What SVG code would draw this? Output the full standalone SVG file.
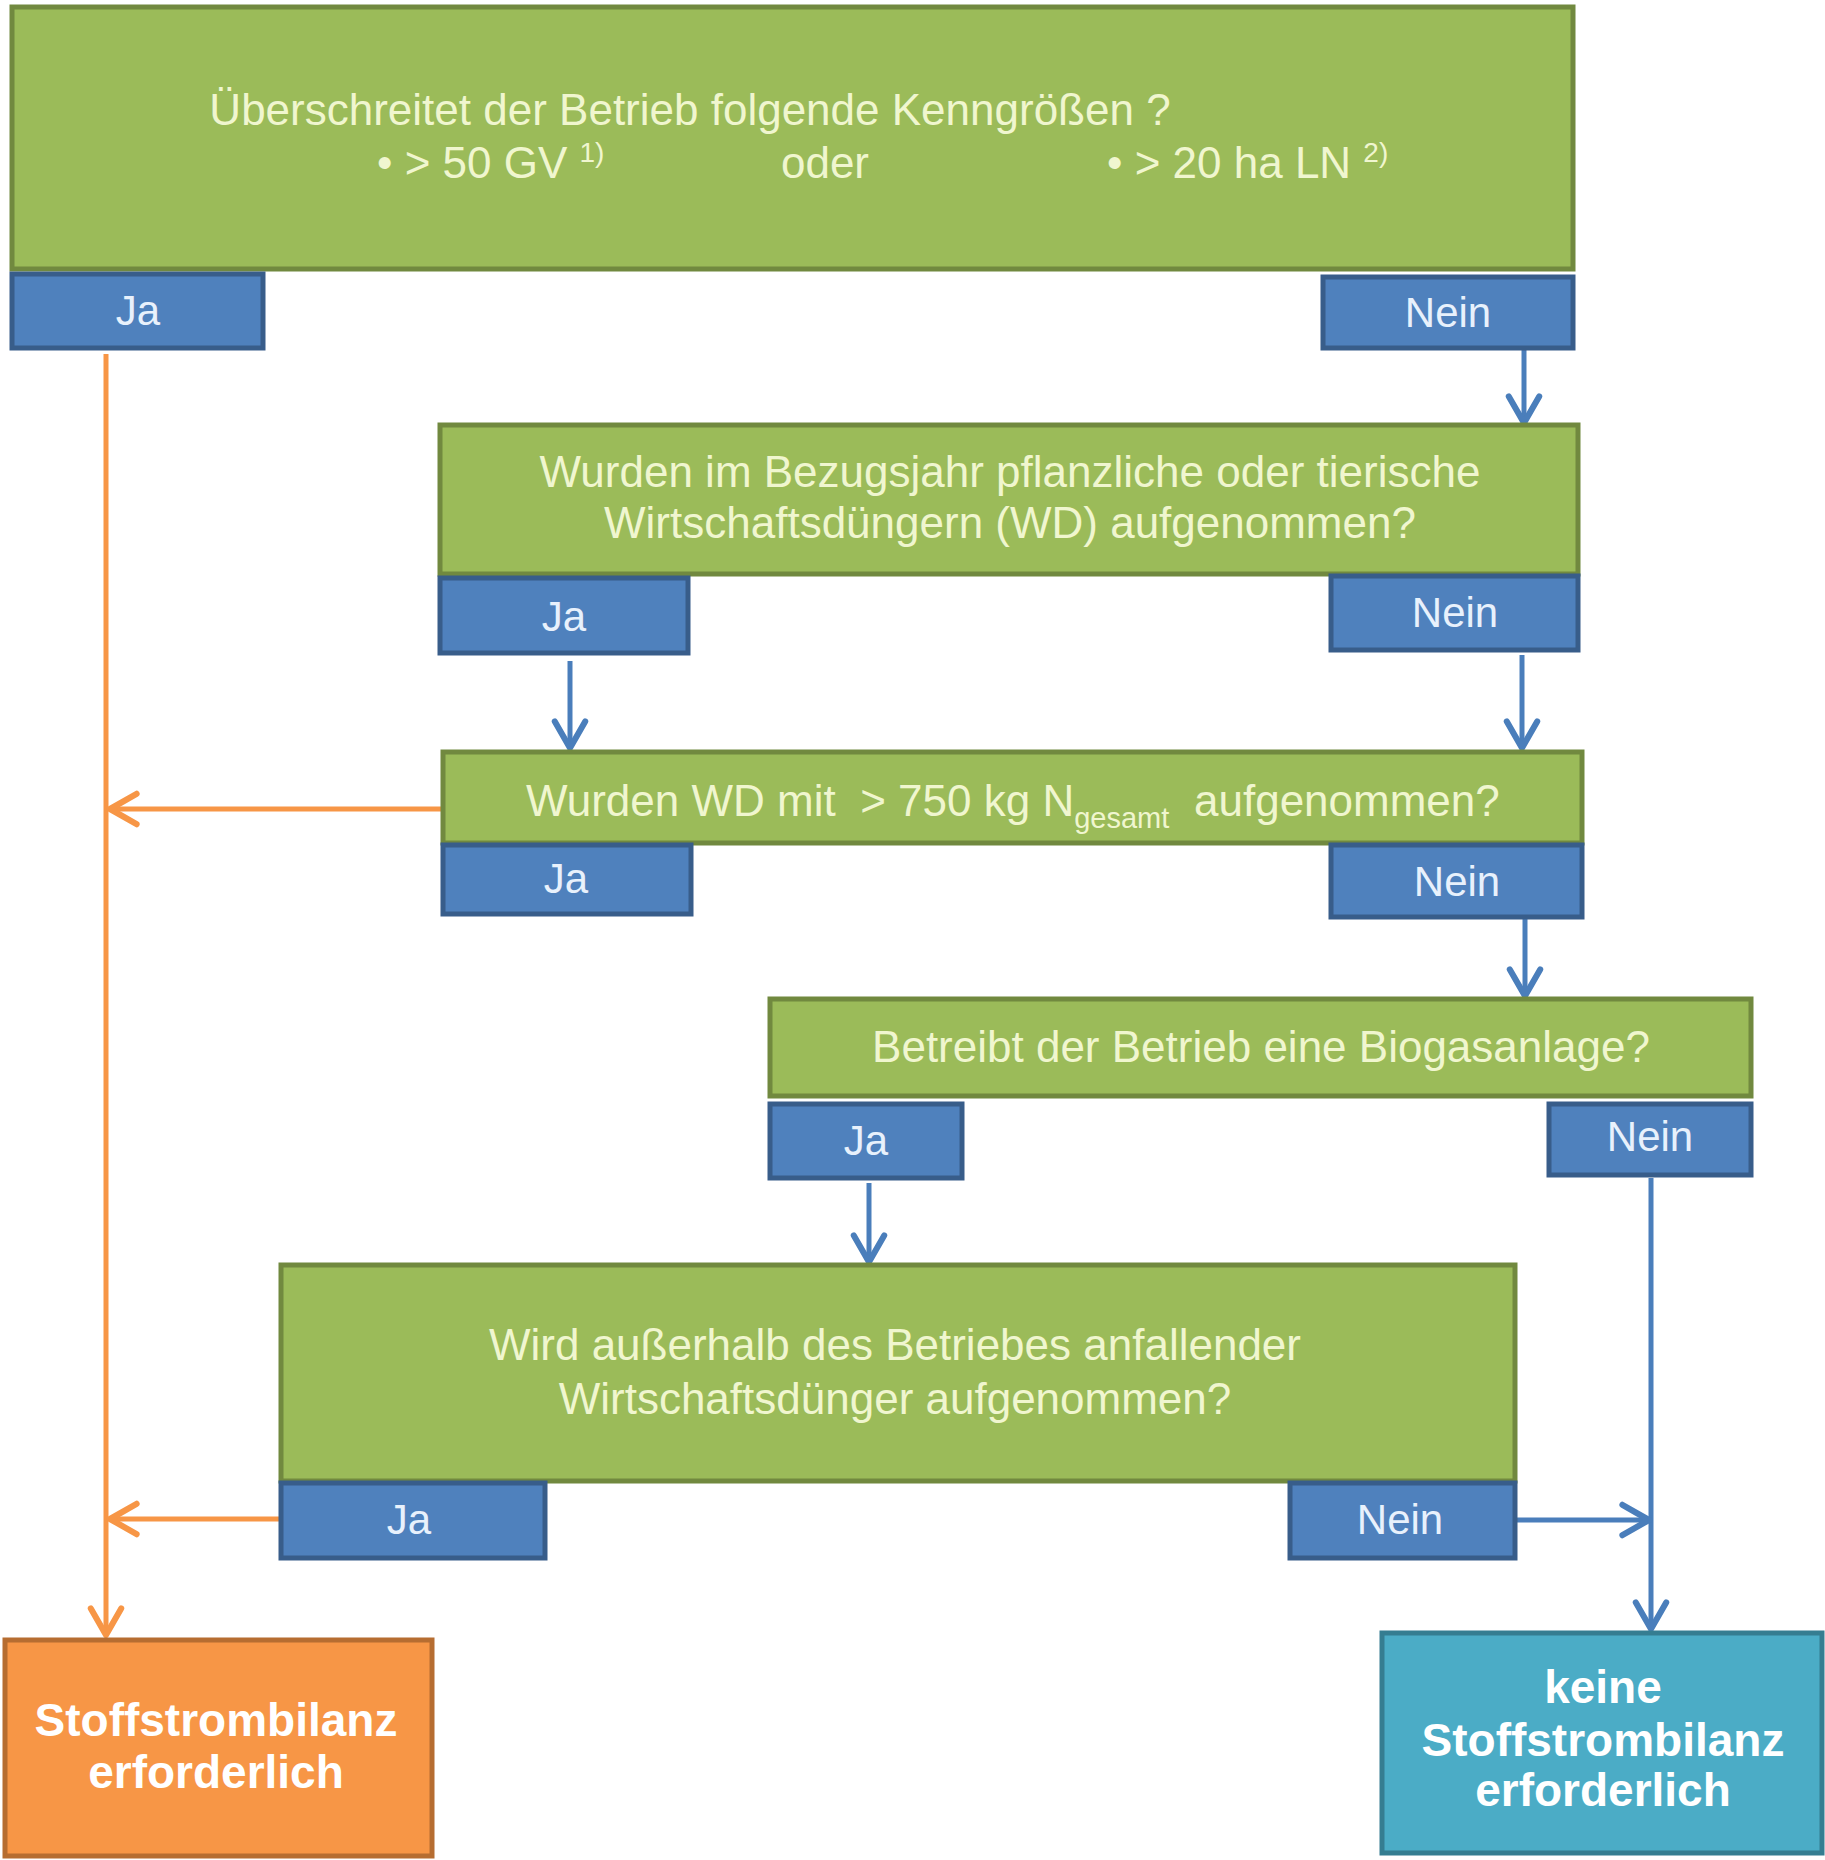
<svg xmlns="http://www.w3.org/2000/svg" width="1825" height="1860" viewBox="0 0 1825 1860">
<defs>
<style>
.q{fill:#9BBB59;stroke:#71893F;stroke-width:5}
.b{fill:#4F81BD;stroke:#385D8A;stroke-width:5}
.o{fill:#F79646;stroke:#B66D31;stroke-width:5}
.t{fill:#4BACC6;stroke:#357D91;stroke-width:5}
.qt{font-family:"Liberation Sans",Arial,sans-serif;font-size:44px;fill:#F0F6CF;text-anchor:middle}
.bt{font-family:"Liberation Sans",Arial,sans-serif;font-size:42px;fill:#E8F1FC;text-anchor:middle}
.rt{font-family:"Liberation Sans",Arial,sans-serif;font-size:46px;font-weight:bold;fill:#FFFFFF;text-anchor:middle}
.cb{fill:none;stroke:#4A7EBB;stroke-width:5}
.co{fill:none;stroke:#F79646;stroke-width:5}
</style>
<marker id="ab" viewBox="0 0 20 20" markerWidth="38" markerHeight="38" markerUnits="userSpaceOnUse" refX="18" refY="10" orient="auto">
<path d="M4,2 L18,10 L4,18" fill="none" stroke="#4A7EBB" stroke-width="3.2" stroke-linecap="round" stroke-linejoin="round"/>
</marker>
<marker id="ao" viewBox="0 0 20 20" markerWidth="38" markerHeight="38" markerUnits="userSpaceOnUse" refX="18" refY="10" orient="auto">
<path d="M4,2 L18,10 L4,18" fill="none" stroke="#F79646" stroke-width="3.2" stroke-linecap="round" stroke-linejoin="round"/>
</marker>
</defs>
<rect width="1825" height="1860" fill="#FFFFFF"/>

<g id="connectors">
<path class="co" d="M106,354 V1635" marker-end="url(#ao)"/>
<path class="co" d="M443,809 H110" marker-end="url(#ao)"/>
<path class="co" d="M281,1519 H110" marker-end="url(#ao)"/>
<path class="cb" d="M1524,348 V423" marker-end="url(#ab)"/>
<path class="cb" d="M570,661 V748" marker-end="url(#ab)"/>
<path class="cb" d="M1522,655 V748" marker-end="url(#ab)"/>
<path class="cb" d="M1525,917 V996" marker-end="url(#ab)"/>
<path class="cb" d="M869,1183 V1262" marker-end="url(#ab)"/>
<path class="cb" d="M1651,1178 V1629" marker-end="url(#ab)"/>
<path class="cb" d="M1515,1520 H1649" marker-end="url(#ab)"/>
</g>

<g id="q1">
<rect class="q" x="12" y="7" width="1561" height="262"/>
<text class="qt" x="690" y="125">Überschreitet der Betrieb folgende Kenngrößen ?</text>
<text class="qt" x="377" y="178" style="text-anchor:start">• &gt; 50 GV <tspan font-size="28" dy="-16">1)</tspan></text>
<text class="qt" x="825" y="178">oder</text>
<text class="qt" x="1107" y="178" style="text-anchor:start">• &gt; 20 ha LN <tspan font-size="28" dy="-16">2)</tspan></text>
</g>
<g id="q1-ja"><rect class="b" x="12" y="274" width="251" height="74"/><text class="bt" x="138" y="325">Ja</text></g>
<g id="q1-nein"><rect class="b" x="1323" y="277" width="250" height="71"/><text class="bt" x="1448" y="327">Nein</text></g>

<g id="q2">
<rect class="q" x="440" y="425" width="1138" height="149"/>
<text class="qt" x="1010" y="487">Wurden im Bezugsjahr pflanzliche oder tierische</text>
<text class="qt" x="1010" y="538">Wirtschaftsdüngern (WD) aufgenommen?</text>
</g>
<g id="q2-ja"><rect class="b" x="440" y="578" width="248" height="75"/><text class="bt" x="564" y="631">Ja</text></g>
<g id="q2-nein"><rect class="b" x="1331" y="576" width="247" height="74"/><text class="bt" x="1455" y="627">Nein</text></g>

<g id="q3">
<rect class="q" x="443" y="752" width="1139" height="91"/>
<text class="qt" x="526" y="816" style="text-anchor:start">Wurden WD mit&#160; &gt; 750 kg N<tspan font-size="29" dy="12">gesamt</tspan><tspan x="1194" dy="-12">aufgenommen?</tspan></text>
</g>
<g id="q3-ja"><rect class="b" x="443" y="845" width="248" height="69"/><text class="bt" x="566" y="893">Ja</text></g>
<g id="q3-nein"><rect class="b" x="1331" y="845" width="251" height="72"/><text class="bt" x="1457" y="896">Nein</text></g>

<g id="q4">
<rect class="q" x="770" y="999" width="981" height="97"/>
<text class="qt" x="1261" y="1062">Betreibt der Betrieb eine Biogasanlage?</text>
</g>
<g id="q4-ja"><rect class="b" x="770" y="1104" width="192" height="74"/><text class="bt" x="866" y="1155">Ja</text></g>
<g id="q4-nein"><rect class="b" x="1549" y="1104" width="202" height="71"/><text class="bt" x="1650" y="1151">Nein</text></g>

<g id="q5">
<rect class="q" x="281" y="1265" width="1234" height="216"/>
<text class="qt" x="895" y="1360">Wird außerhalb des Betriebes anfallender</text>
<text class="qt" x="895" y="1414">Wirtschaftsdünger aufgenommen?</text>
</g>
<g id="q5-ja"><rect class="b" x="281" y="1483" width="264" height="75"/><text class="bt" x="409" y="1534">Ja</text></g>
<g id="q5-nein"><rect class="b" x="1290" y="1483" width="225" height="75"/><text class="bt" x="1400" y="1534">Nein</text></g>

<g id="result-yes">
<rect class="o" x="5" y="1640" width="427" height="216"/>
<text class="rt" x="216" y="1736">Stoffstrombilanz</text>
<text class="rt" x="216" y="1788">erforderlich</text>
</g>
<g id="result-no">
<rect class="t" x="1382" y="1633" width="440" height="220"/>
<text class="rt" x="1603" y="1703">keine</text>
<text class="rt" x="1603" y="1756">Stoffstrombilanz</text>
<text class="rt" x="1603" y="1806">erforderlich</text>
</g>
</svg>
